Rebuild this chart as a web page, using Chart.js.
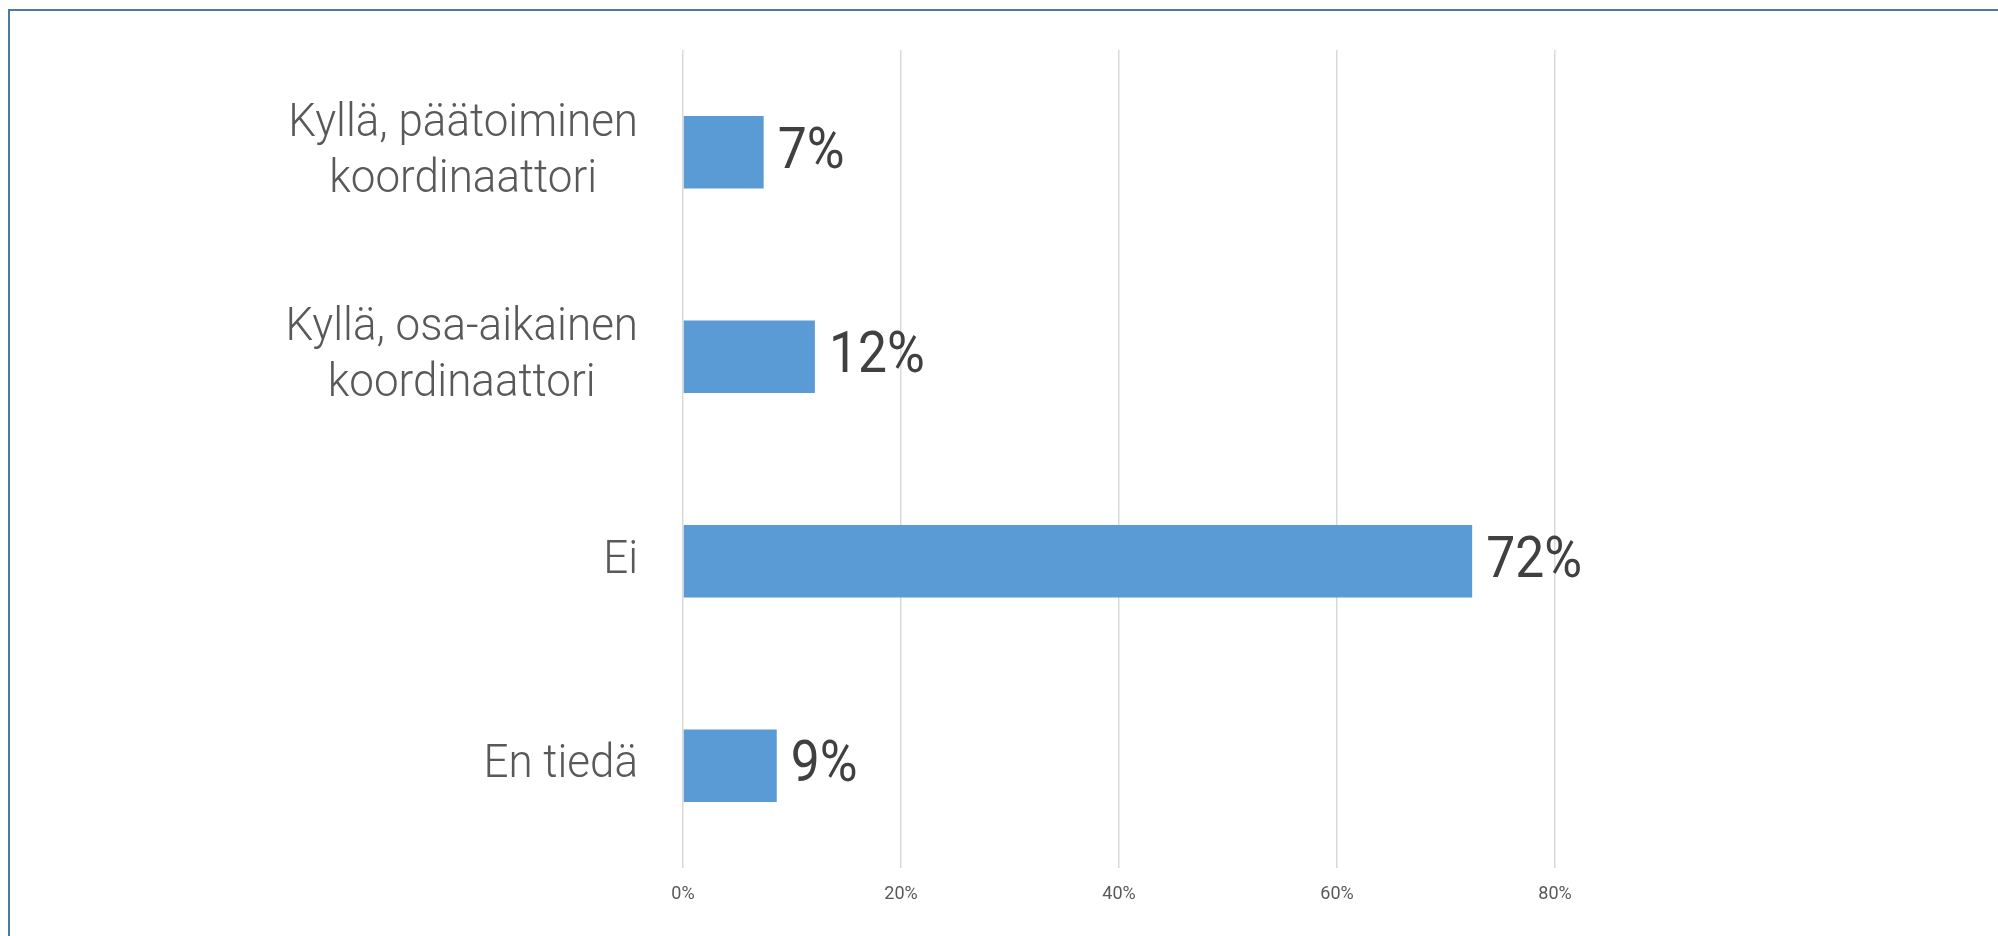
<!DOCTYPE html>
<html>
<head>
<meta charset="utf-8">
<script src="https://cdn.jsdelivr.net/npm/chart.js@4/dist/chart.umd.min.js"></script>
<style>
  html, body { margin: 0; padding: 0; background: #ffffff; overflow: hidden; }
  #wrap { position: relative; width: 1998px; height: 936px; }
  #frame { position: absolute; left: 8px; top: 9px; width: 2100px; height: 1000px;
           border: 2px solid #4a7ba7; box-sizing: border-box; }
  canvas { position: absolute; left: 0; top: 0; }
</style>
</head>
<body>
<div id="wrap">
  <div id="frame"></div>
  <canvas id="c" width="1998" height="936"></canvas>
</div>
<script>
const categories = [
  ["Kyllä, päätoiminen", "koordinaattori"],
  ["Kyllä, osa-aikainen", "koordinaattori"],
  "Ei",
  "En tiedä"
];
const values = [7.4, 12.1, 72.4, 8.6];
const tickValues = [0, 20, 40, 60, 80];

const FONT = "Roboto, 'Liberation Sans', Arial, sans-serif";
const CAT_SX = 0.955;  // horizontal condensing of category text
const VAL_SX = 0.89;   // horizontal condensing of value labels

function drawCondensed(ctx, text, x, y, sx) {
  ctx.save();
  ctx.translate(x, y);
  ctx.scale(sx, 1);
  ctx.fillText(text, 0, 0);
  ctx.restore();
}

const categoryLabelPlugin = {
  id: 'categoryLabels',
  afterDraw(chart) {
    const ctx = chart.ctx;
    const yScale = chart.scales.y;
    const axisRight = chart.chartArea.left - 45;
    const lineH = 56;
    ctx.save();
    ctx.font = "300 46px " + FONT;
    ctx.fillStyle = '#595959';
    ctx.textBaseline = 'middle';
    ctx.textAlign = 'center';
    chart.data.labels.forEach((lab, i) => {
      const lines = Array.isArray(lab) ? lab : [lab];
      const widths = lines.map(l => ctx.measureText(l).width * CAT_SX);
      const w = Math.max(...widths);
      const cx = axisRight - w / 2;
      const cy = yScale.getPixelForTick(i);
      const startY = cy - (lines.length - 1) * lineH / 2;
      lines.forEach((l, j) => drawCondensed(ctx, l, cx, startY + j * lineH, CAT_SX));
    });
    ctx.restore();
  }
};

const valueLabelPlugin = {
  id: 'valueLabels',
  afterDatasetsDraw(chart) {
    const ctx = chart.ctx;
    const meta = chart.getDatasetMeta(0);
    ctx.save();
    ctx.font = "58px " + FONT;
    ctx.fillStyle = '#404040';
    ctx.textBaseline = 'middle';
    ctx.textAlign = 'left';
    meta.data.forEach((bar, i) => {
      const v = chart.data.datasets[0].data[i];
      drawCondensed(ctx, Math.round(v) + '%', bar.x + 14, bar.y + 1, VAL_SX);
    });
    ctx.restore();
  }
};

new Chart(document.getElementById('c'), {
  type: 'bar',
  data: {
    labels: categories,
    datasets: [{
      data: values,
      backgroundColor: '#5b9bd5',
      borderWidth: 0,
      categoryPercentage: 1,
      barPercentage: 0.355
    }]
  },
  options: {
    indexAxis: 'y',
    responsive: false,
    animation: false,
    events: [],
    layout: { padding: { left: 0, top: 50, right: 443, bottom: 0 } },
    plugins: { legend: { display: false }, tooltip: { enabled: false } },
    scales: {
      x: {
        min: 0, max: 80,
        afterBuildTicks(scale) { scale.ticks = tickValues.map(v => ({ value: v })); },
        afterFit(scale) { scale.height = 68; },
        ticks: {
          padding: 16,
          color: '#595959',
          font: { family: FONT, size: 18 },
          callback: v => v + '%'
        },
        grid: { color: '#d9d9d9', lineWidth: 1.5, drawTicks: false },
        border: { display: false }
      },
      y: {
        afterFit(scale) { scale.width = 683; },
        ticks: { display: false },
        grid: { display: false },
        border: { display: false }
      }
    }
  },
  plugins: [categoryLabelPlugin, valueLabelPlugin]
});
</script>
</body>
</html>
